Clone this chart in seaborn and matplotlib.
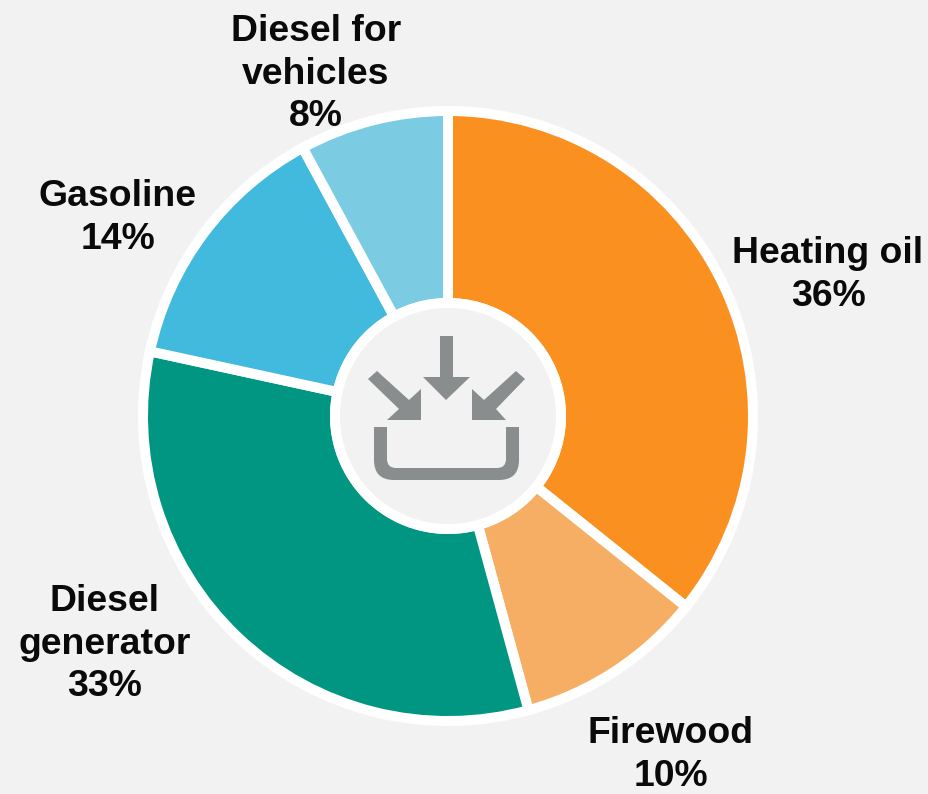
import numpy as np
import matplotlib
matplotlib.use("Agg")
import matplotlib.pyplot as plt
from matplotlib.patches import Circle, Polygon, PathPatch
from matplotlib.path import Path
import seaborn as sns

categories = ["Heating oil", "Firewood", "Diesel generator", "Gasoline", "Diesel for vehicles"]
shares = [35.75, 10.0, 32.65, 13.7, 7.9]
colors = ["#F99020", "#F6AE64", "#009681", "#41BADD", "#7BCCE3"]
label_texts = ["Heating oil\n36%", "Firewood\n10%", "Diesel\ngenerator\n33%", "Gasoline\n14%", "Diesel for\nvehicles\n8%"]
label_xy = [(828, 275), (671, 755), (105, 644), (118, 218), (316, 74)]

BG = "#F2F2F2"
ICON = "#898D8D"
H = 794

sns.set_theme(style="white")
plt.rcParams["font.family"] = ["Liberation Sans", "DejaVu Sans"]
fig = plt.figure(figsize=(9.29, 7.94), dpi=100, facecolor=BG)
ax = fig.add_axes([0, 0, 1, 1])
ax.set_facecolor(BG)

cx, cy = 448, H - 416
lw = 10 * 72 / 100
ax.pie(shares, colors=sns.color_palette(colors), startangle=90, counterclock=False,
       center=(cx, cy), radius=305, frame=True,
       wedgeprops=dict(width=305 - 113, edgecolor="white", linewidth=lw))
ax.set_xlim(0, 929)
ax.set_ylim(0, H)
ax.set_aspect("equal")
ax.axis("off")

ax.add_patch(Circle((cx, cy), 118, fc="white", ec="none", zorder=3))
ax.add_patch(Circle((cx, cy), 108, fc=BG, ec="none", zorder=4))


def px(points):
    return [(x, H - y) for x, y in points]


arrows = [
    [(440, 336), (453, 336), (453, 377), (470, 377), (446, 400), (423, 377), (440, 377)],
    [(377, 371), (368, 379), (399, 409), (387, 420), (421, 420), (421, 389), (409, 400)],
    [(516, 371), (525, 379), (496, 409), (506, 420), (472, 420), (472, 389), (484, 400)],
]
for a in arrows:
    ax.add_patch(Polygon(px(a), closed=True, fc=ICON, ec="none", zorder=5))

# tray
o_l, o_r, i_l, i_r, top, o_b, i_b = 374, 519, 387, 506, 427, 480, 468
ro, ri = 20, 9
verts = px([(o_l, top), (i_l, top), (i_l, i_b - ri), (i_l, i_b), (i_l + ri, i_b),
            (i_r - ri, i_b), (i_r, i_b), (i_r, i_b - ri), (i_r, top), (o_r, top),
            (o_r, o_b - ro), (o_r, o_b), (o_r - ro, o_b), (o_l + ro, o_b), (o_l, o_b),
            (o_l, o_b - ro), (o_l, top)])
codes = [Path.MOVETO, Path.LINETO, Path.LINETO, Path.CURVE3, Path.CURVE3,
         Path.LINETO, Path.CURVE3, Path.CURVE3, Path.LINETO, Path.LINETO,
         Path.LINETO, Path.CURVE3, Path.CURVE3, Path.LINETO, Path.CURVE3,
         Path.CURVE3, Path.CLOSEPOLY]
ax.add_patch(PathPatch(Path(verts, codes), fc=ICON, ec="none", zorder=5))

for txt, (x, y) in zip(label_texts, label_xy):
    ax.text(x, H - y, txt, ha="center", va="center", fontsize=26.9, fontweight="bold",
            color="#0A0A0A", linespacing=1.295, zorder=6)

fig.savefig("out.png", dpi=100, facecolor=BG)
